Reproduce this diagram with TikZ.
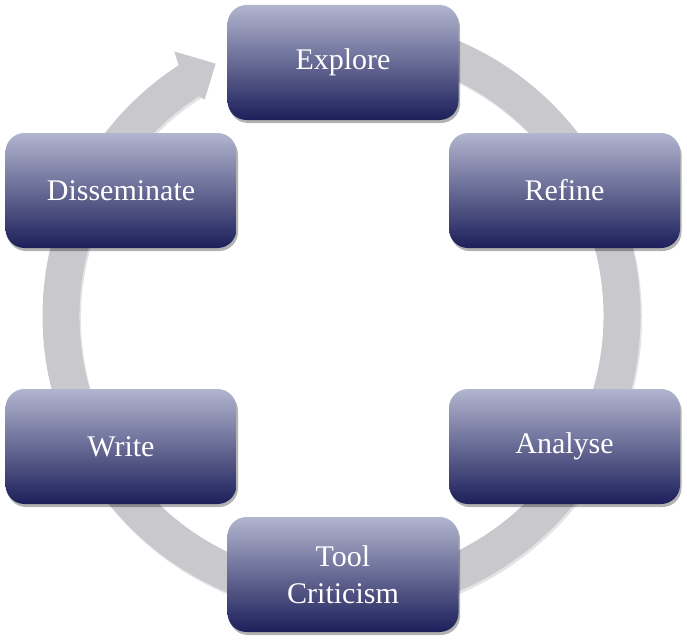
\documentclass[tikz,border=0pt]{standalone}
\usepackage{fontspec}
\setmainfont{Liberation Serif}
\usetikzlibrary{shadows,calc}
\definecolor{ringgray}{RGB}{200,200,205}
\definecolor{boxtop}{RGB}{178,181,206}
\definecolor{boxmid}{RGB}{122,125,162}
\definecolor{boxbot}{RGB}{28,31,90}
\tikzset{
  stagebox/.style={rectangle, rounded corners=19pt, minimum width=231pt, minimum height=115pt,
    top color=boxtop, middle color=boxmid, bottom color=boxbot, text=white,
    font=\fontsize{30}{37}\selectfont, align=center, inner sep=0pt,
    drop shadow={shadow xshift=1.5pt, shadow yshift=-3pt, opacity=0.3, fill=black}},
  ringfill/.style={fill=ringgray, draw=none}
}
\begin{document}
\begin{tikzpicture}[x=1pt,y=-1pt]
\useasboundingbox (0,0) rectangle (687,642);
\coordinate (c) at (341.5,316);
% ring with arrow
\fill[ringgray!70!gray, opacity=0.35] ($(c)+(1.5pt,-2.5pt)+(90:299pt)$) arc[start angle=90, end angle=-238, radius=299pt]
  -- ($(c)+(1.5pt,-2.5pt)+(122:262pt)$) arc[start angle=122, end angle=450, radius=262pt] -- cycle;
\fill[ringfill] ($(c)+(90:299pt)$) arc[start angle=90, end angle=-238, radius=299pt]
  -- ($(c)+(122:262pt)$) arc[start angle=122, end angle=450, radius=262pt] -- cycle;
\fill[ringfill] ($(c)+(122.3:313pt)$) -- ($(c)+(116.5:282pt)$) -- ($(c)+(122.3:256pt)$) -- ($(c)+(123:262pt)$) -- ($(c)+(123:299pt)$) -- cycle;
% boxes
\node[stagebox] (explore) at (343,62.5) {Explore};
\node[stagebox] (refine) at (564.5,190.5) {Refine};
\node[stagebox] (analyse) at (564.5,446.5) {Analyse};
\node[stagebox] (tool) at (343,574.5) {Tool\\Criticism};
\node[stagebox] (write) at (121,446.5) {Write};
\node[stagebox] (dissem) at (121,190.5) {Disseminate};
\end{tikzpicture}
\end{document}
